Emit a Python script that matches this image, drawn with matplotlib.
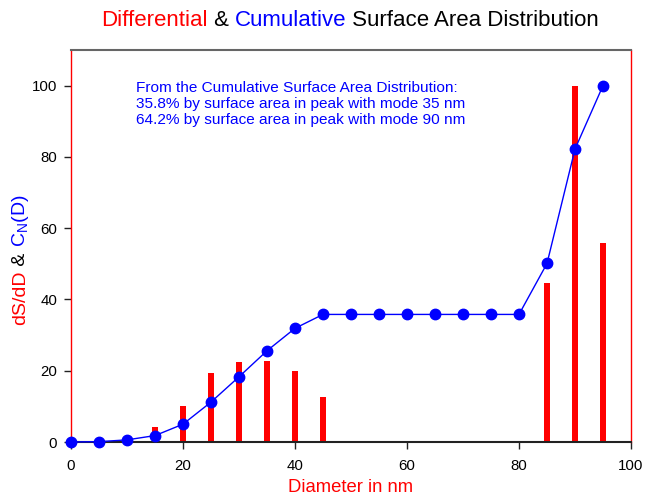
import matplotlib
matplotlib.use("Agg")
import matplotlib.pyplot as plt

plt.rcParams['font.family'] = ['Liberation Sans', 'DejaVu Sans']

diam_bars = [15, 20, 25, 30, 35, 40, 45, 85, 90, 95]
diff_vals = [4.2, 10.1, 19.4, 22.5, 22.8, 20.0, 12.6, 44.7, 100.0, 55.9]

diam_cum = [0, 5, 10, 15, 20, 25, 30, 35, 40, 45, 50, 55, 60, 65, 70, 75, 80, 85, 90, 95]
cum_vals = [0.0, 0.1, 0.6, 1.8, 5.0, 11.2, 18.3, 25.6, 31.9, 35.8, 35.8, 35.8, 35.8,
            35.8, 35.8, 35.8, 35.8, 50.1, 82.2, 100.0]

xticks = [0, 20, 40, 60, 80, 100]
yticks = [0, 20, 40, 60, 80, 100]

W, H = 645, 498
fig = plt.figure(figsize=(W / 100, H / 100), dpi=100)
ax = fig.add_axes([71 / W, 1 - 442 / H, (631 - 71) / W, (442 - 50) / H])

ax.bar(diam_bars, diff_vals, width=0.9, color='#ff0000', zorder=2)
ax.plot(diam_cum, cum_vals, color='#0000ff', lw=1.0, marker='o', ms=7.5,
        markerfacecolor='#0000ff', markeredgecolor='#0000ff', zorder=3, clip_on=False)

ax.set_xlim(0, 100)
ax.set_ylim(0, 110)
ax.set_xticks(xticks)
ax.set_yticks(yticks)
ax.tick_params(axis='both', direction='out', length=5, width=1, labelsize=10.8,
               colors='#222222', labelcolor='black')
ax.tick_params(axis='x', pad=7)
ax.tick_params(axis='y', pad=5)

ax.spines['left'].set_color('#ff0000')
ax.spines['left'].set_linewidth(1.0)
ax.spines['right'].set_color('#ff0000')
ax.spines['right'].set_linewidth(1.0)
ax.spines['top'].set_color('#666666')
ax.spines['top'].set_linewidth(1.5)
ax.spines['bottom'].set_color('#222222')
ax.spines['bottom'].set_linewidth(1.5)

ax.text(136 / W, 1 - 81 / H, "From the Cumulative Surface Area Distribution:\n"
        "35.8% by surface area in peak with mode 35 nm\n"
        "64.2% by surface area in peak with mode 90 nm",
        transform=fig.transFigure, color='#0000ff', fontsize=11.1, va='top',
        ha='left', linespacing=1.2)

fig.text((71 + 631) / 2 / W, 1 - 492 / H, "Diameter in nm", color='#ff0000',
         fontsize=13.3, ha='center', va='baseline')

fig.canvas.draw()
renderer = fig.canvas.get_renderer()

# Title: horizontally composed multi-colour text
title_parts = [("Differential", '#ff0000'), (" & ", 'black'), ("Cumulative", '#0000ff'),
               (" Surface Area Distribution", 'black')]
texts = []
for s, c in title_parts:
    t = fig.text(0, 1 - 26 / H, s, color=c, fontsize=16, ha='left', va='baseline')
    texts.append(t)
fig.canvas.draw()
widths = [t.get_window_extent(renderer).width for t in texts]
total = sum(widths)
x0 = 350 - total / 2
for t, w in zip(texts, widths):
    t.set_x(x0 / W)
    x0 += w

# Y label: vertically composed rotated multi-colour text
ylab_parts = [("dS/dD", '#ff0000'), (" & ", 'black'), (r"C$_\mathregular{N}$(D)", '#0000ff')]
ytexts = []
for s, c in ylab_parts:
    t = fig.text(25 / W, 0, s, color=c, fontsize=14, rotation=90, ha='left',
                 va='baseline', rotation_mode='anchor')
    ytexts.append(t)
fig.canvas.draw()
heights = [t.get_window_extent(renderer).height for t in ytexts]
totalh = sum(heights)
y0 = (H - 260) - totalh / 2
for t, h in zip(ytexts, heights):
    t.set_y(y0 / H)
    y0 += h

fig.savefig("out.png", dpi=100)
